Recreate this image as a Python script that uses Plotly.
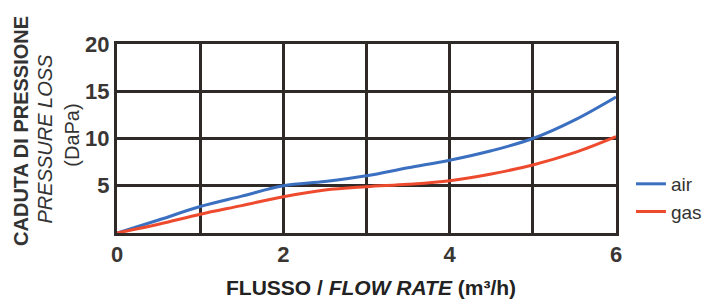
import plotly.graph_objects as go

flow = [0, 0.5, 1, 1.5, 2, 2.5, 3, 3.5, 4, 4.5, 5, 5.5, 6]
air = [0, 1.37, 2.8, 3.9, 5.0, 5.45, 6.05, 6.9, 7.7, 8.7, 10.0, 11.95, 14.4]
gas = [0, 0.92, 1.98, 2.9, 3.84, 4.55, 4.9, 5.15, 5.53, 6.25, 7.2, 8.5, 10.2]
x_ticks = [0, 2, 4, 6]
y_ticks = [5, 10, 15, 20]

fig = go.Figure()
fig.add_trace(go.Scatter(x=flow, y=air, mode="lines", name="air",
                         line=dict(color="#3b6fc0", width=3, shape="spline")))
fig.add_trace(go.Scatter(x=flow, y=gas, mode="lines", name="gas",
                         line=dict(color="#ee4a2e", width=3, shape="spline")))

grid = "#2f2a27"
tickfont = dict(family="Liberation Sans Narrow, Liberation Sans, Arial", size=22,
                color="#3a3634", weight="bold")
fig.update_xaxes(range=[0, 6], tickvals=x_ticks, showgrid=True, gridcolor=grid, gridwidth=3,
                 showline=True, linecolor=grid, linewidth=3, mirror=True,
                 zeroline=False, ticks="",
                 minor=dict(showgrid=True, gridcolor=grid, gridwidth=3, tickvals=[1, 3, 5]),
                 tickfont=tickfont)
fig.update_yaxes(range=[0, 20], tickvals=y_ticks, showgrid=True, gridcolor=grid, gridwidth=3,
                 showline=True, linecolor=grid, linewidth=3, mirror=True, zeroline=False,
                 ticks="", tickfont=tickfont)

title_font = "Liberation Sans, Arial"
fig.add_annotation(text="<b>CADUTA DI PRESSIONE</b>", xref="paper", yref="paper",
                   x=-0.1924, y=0.54, textangle=-90, showarrow=False,
                   font=dict(family=title_font, size=20, color="#333"),
                   xanchor="center", yanchor="middle")
fig.add_annotation(text="<i>PRESSURE LOSS</i>", xref="paper", yref="paper",
                   x=-0.1443, y=0.50, textangle=-90, showarrow=False,
                   font=dict(family=title_font, size=20, color="#333"),
                   xanchor="center", yanchor="middle")
fig.add_annotation(text="(DaPa)", xref="paper", yref="paper",
                   x=-0.0902, y=0.52, textangle=-90, showarrow=False,
                   font=dict(family=title_font, size=20, color="#333"),
                   xanchor="center", yanchor="middle")
fig.add_annotation(text="<b>FLUSSO / <i>FLOW RATE</i> (m³/h)</b>",
                   xref="paper", yref="paper", x=0.509, y=-0.291, showarrow=False,
                   font=dict(family=title_font, size=21, color="#222"),
                   xanchor="center", yanchor="middle")

fig.update_layout(
    width=720, height=302,
    margin=dict(l=117, r=104, t=44, b=69),
    plot_bgcolor="white", paper_bgcolor="white",
    showlegend=True,
    legend=dict(x=1.03, y=0.36, xanchor="left", yanchor="top", bgcolor="rgba(0,0,0,0)",
                font=dict(family="Liberation Sans Narrow, Liberation Sans, Arial", size=19,
                          color="#333"),
                itemwidth=30),
)

fig.write_html(
    "out.html",
    config={"displayModeBar": False},
    post_script="document.body.style.margin='0';document.body.style.overflow='hidden';",
)
